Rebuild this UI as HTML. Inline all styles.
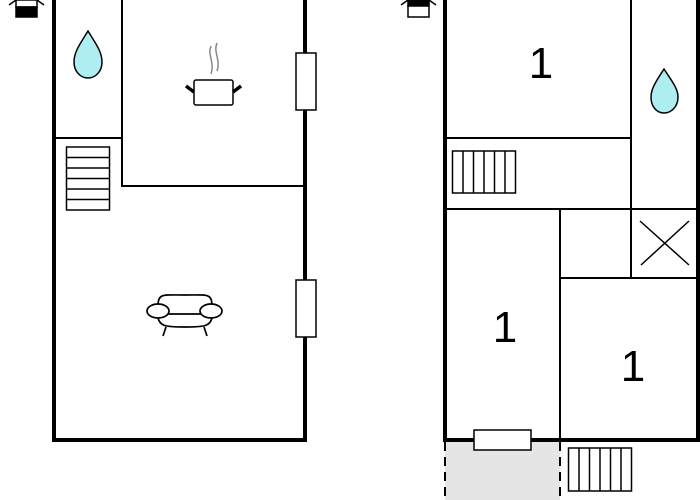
<!DOCTYPE html>
<html><head><style>html,body{margin:0;padding:0;background:#fff;width:700px;height:500px;overflow:hidden}</style></head>
<body>
<svg width="700" height="500" viewBox="0 0 700 500" xmlns="http://www.w3.org/2000/svg" font-family="Liberation Sans, sans-serif">
<!-- top icons -->
<g stroke="#000" stroke-width="1.5">
<rect x="16" y="0" width="21" height="7" fill="#fff"/>
<rect x="16" y="7" width="21" height="10" fill="#000"/>
<line x1="9" y1="5" x2="16" y2="0"/><line x1="44" y1="5" x2="37" y2="0"/>
<rect x="408" y="0" width="21" height="6" fill="#000"/>
<rect x="408" y="6" width="21" height="11" fill="#fff"/>
<line x1="401" y1="5" x2="408" y2="0"/><line x1="436" y1="5" x2="429" y2="0"/>
</g>
<!-- left plan -->
<g stroke="#000" fill="none">
<path d="M54 0 V440 H305 V0" stroke-width="4"/>
<path d="M122 0 V186 H305 M54 138 H122" stroke-width="2"/>
<rect x="296" y="53" width="20" height="57" fill="#fff" stroke-width="1.5"/>
<rect x="296" y="280" width="20" height="57" fill="#fff" stroke-width="1.5"/>
<rect x="66.5" y="147" width="43" height="63" stroke-width="1.5"/>
<path d="M66.5 157.5 H109.5 M66.5 168 H109.5 M66.5 178.5 H109.5 M66.5 189 H109.5 M66.5 199.5 H109.5" stroke-width="1.5"/>
<path d="M88 31 C80 44 74 52 74 62 C74 72 81 78 88 78 C95 78 102 72 102 62 C102 52 96 44 88 31 Z" fill="#aeeef2" stroke-width="1.5"/>
<rect x="194" y="80" width="39" height="25" rx="2" fill="#fff" stroke-width="1.5"/>
<path d="M186 86 L194 92 M241 86 L233 92" stroke-width="3.5"/>
<path d="M211 46 C207 55 215 62 211 74 M217 43 C213 52 221 60 217 71" stroke="#888" stroke-width="1.5"/>
<path d="M158 307 C158 293 162 295 185 295 C208 295 212 293 212 307" stroke-width="1.7"/>
<ellipse cx="158" cy="311" rx="11" ry="7" fill="#fff" stroke-width="1.7"/>
<ellipse cx="211" cy="311" rx="11" ry="7" fill="#fff" stroke-width="1.7"/>
<path d="M168 314 H201 M158 318 C160 326 165 327 185 327 C205 327 210 326 212 318 M166 327 L163 336 M204 327 L207 336" stroke-width="1.7"/>
</g>
<!-- right plan -->
<rect x="445" y="442" width="115" height="58" fill="#e5e5e5"/>
<g stroke="#000" fill="none">
<path d="M445 0 V440 H698 V0" stroke-width="4"/>
<path d="M631 0 V278 M445 138 H631 M445 209 H698 M560 209 V440 M560 278 H698" stroke-width="2"/>
<path d="M640 221 L689 265 M689 221 L641 265" stroke-width="1.5"/>
<rect x="452.5" y="151" width="63" height="42" stroke-width="1.5"/>
<path d="M463 151 V193 M473.5 151 V193 M484 151 V193 M494.5 151 V193 M505 151 V193" stroke-width="1.5"/>
<rect x="568.5" y="448" width="63" height="43" stroke-width="1.5"/>
<path d="M579 448 V491 M589.5 448 V491 M600 448 V491 M610.5 448 V491 M621 448 V491" stroke-width="1.5"/>
<rect x="474" y="430" width="57" height="20" fill="#fff" stroke-width="1.5"/>
<path d="M445 442 V500 M560 442 V500" stroke-width="2" stroke-dasharray="9 6"/>
<path d="M664 69 C657 80 651 88 651 97 C651 107 657 113 664 113 C671 113 678 107 678 97 C678 88 671 80 664 69 Z" fill="#aeeef2" stroke-width="1.5"/>
</g>
<g font-size="44" fill="#000" text-anchor="middle">
<text x="541" y="78">1</text>
<text x="505" y="342">1</text>
<text x="633" y="381">1</text>
</g>
</svg>
</body></html>
